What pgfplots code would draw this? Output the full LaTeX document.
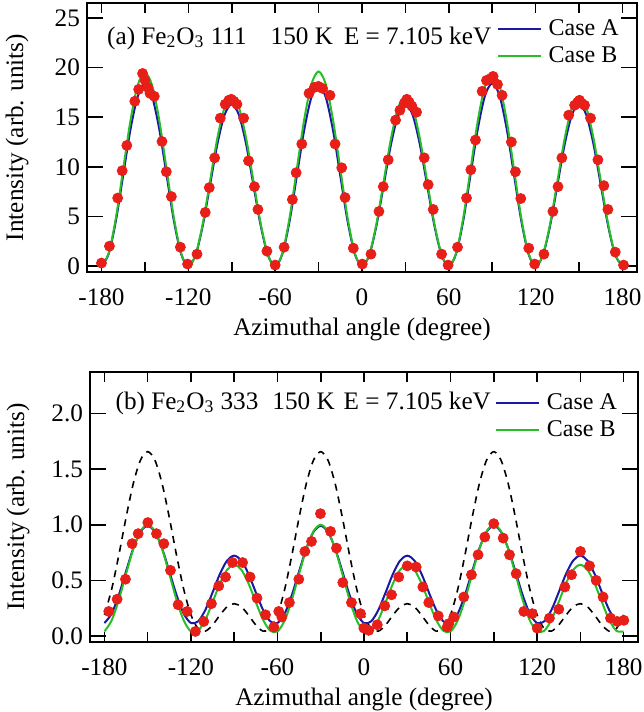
\documentclass[border=0pt]{standalone}
\usepackage{fontspec}
\setmainfont{Liberation Serif}
\usepackage{pgfplots}
\usepackage{pgfplotstable}
\pgfplotsset{compat=1.18}
\definecolor{caseA}{RGB}{25,25,165}
\definecolor{caseB}{RGB}{40,190,40}
\definecolor{dotred}{RGB}{232,30,25}

\pgfplotstableread{
x A B
-180 0 0
-175 1.23 1.31
-170 4.58 4.88
-165 9.15 9.75
-160 13.73 14.63
-155 17.07 18.19
-150 18.3 19.5
-145 17.07 18.19
-140 13.73 14.63
-135 9.15 9.75
-130 4.58 4.88
-125 1.23 1.31
-120 0 0
-115 1.09 1.15
-110 4.08 4.28
-105 8.15 8.55
-100 12.23 12.83
-95 15.21 15.95
-90 16.3 17.1
-85 15.21 15.95
-80 12.23 12.83
-75 8.15 8.55
-70 4.08 4.28
-65 1.09 1.15
-60 0 0
-55 1.22 1.31
-50 4.55 4.9
-45 9.1 9.8
-40 13.65 14.7
-35 16.98 18.29
-30 18.2 19.6
-25 16.98 18.29
-20 13.65 14.7
-15 9.1 9.8
-10 4.55 4.9
-5 1.22 1.31
0 0 0
5 1.09 1.15
10 4.08 4.28
15 8.15 8.55
20 12.23 12.83
25 15.21 15.95
30 16.3 17.1
35 15.21 15.95
40 12.23 12.83
45 8.15 8.55
50 4.08 4.28
55 1.09 1.15
60 0 0
65 1.23 1.31
70 4.6 4.88
75 9.2 9.75
80 13.8 14.63
85 17.17 18.19
90 18.4 19.5
95 17.17 18.19
100 13.8 14.63
105 9.2 9.75
110 4.6 4.88
115 1.23 1.31
120 0 0
125 1.09 1.15
130 4.08 4.28
135 8.15 8.55
140 12.23 12.83
145 15.21 15.95
150 16.3 17.1
155 15.21 15.95
160 12.23 12.83
165 8.15 8.55
170 4.08 4.28
175 1.09 1.15
180 0 0
}\topcurves

\pgfplotstableread{
x y
-180 0.3
-174.5 2.0
-168.8 6.85
-165.7 9.6
-162.5 12.15
-157 16.6
-154.3 17.8
-151.6 19.4
-149.9 18.7
-148 18.0
-146.5 17.4
-143.5 17.1
-138.2 12.55
-135.2 9.5
-131.7 7.0
-125.5 1.9
-120.5 0.2
-114 1.2
-108.3 5.4
-105.5 7.9
-101.8 10.9
-97.9 14.9
-94.5 16.3
-92 16.7
-90.3 16.8
-88.5 16.6
-86.4 16.3
-81.8 14.9
-78.4 10.6
-74.3 8.0
-71.9 5.7
-65.7 1.5
-60 0.1
-53.8 1.9
-48.1 6.7
-45.5 9.4
-41.6 12.3
-36.6 17.4
-32.9 18.0
-30.1 18.1
-27.4 17.9
-22.1 17.2
-18.6 12.3
-14 9.9
-11.7 6.9
-6 1.8
0.2 0.2
6.2 1.2
11.7 5.5
14.7 8.0
18.1 10.7
23.2 14.7
26.2 15.7
29.2 16.4
31 16.8
32.6 16.5
34.5 16.1
37.7 15.5
43 10.9
45.7 8.2
49.2 5.7
55 1.2
59.5 0.1
66 1.9
72.2 6.85
75.2 9.7
78.4 12.7
83 17.6
86 18.7
89 18.9
90.6 19.1
93.6 18.3
96.8 17.2
103.2 12.5
106 9.5
109.7 6.8
115.2 1.8
119.3 0.2
125.7 1.2
131.9 5.5
135.4 8.0
138.1 10.9
142.8 15.2
146.9 16.2
149 16.5
150.3 16.7
151.8 16.4
153.8 16.2
157.9 14.9
163 10.7
167.1 8.1
169.9 5.7
175 1.4
180.7 0.1
}\topdots

\pgfplotstableread{
x A B D
-180 0.116 0.040 0.189
-175 0.200 0.139 0.419
-170 0.368 0.325 0.727
-165 0.581 0.558 1.065
-160 0.787 0.781 1.370
-155 0.936 0.942 1.582
-150 0.990 1.000 1.658
-145 0.936 0.942 1.582
-140 0.787 0.781 1.370
-135 0.581 0.558 1.065
-130 0.368 0.325 0.727
-125 0.200 0.139 0.419
-120 0.116 0.040 0.189
-115 0.131 0.046 0.065
-110 0.234 0.145 0.043
-105 0.391 0.303 0.098
-100 0.555 0.469 0.185
-95 0.677 0.594 0.261
-90 0.722 0.640 0.290
-85 0.677 0.594 0.261
-80 0.555 0.469 0.185
-75 0.391 0.303 0.098
-70 0.234 0.145 0.043
-65 0.131 0.046 0.065
-60 0.116 0.040 0.189
-55 0.200 0.139 0.419
-50 0.368 0.325 0.727
-45 0.581 0.558 1.065
-40 0.787 0.781 1.370
-35 0.936 0.942 1.582
-30 0.990 1.000 1.658
-25 0.936 0.942 1.582
-20 0.787 0.781 1.370
-15 0.581 0.558 1.065
-10 0.368 0.325 0.727
-5 0.200 0.139 0.419
0 0.116 0.040 0.189
5 0.131 0.046 0.065
10 0.234 0.145 0.043
15 0.391 0.303 0.098
20 0.555 0.469 0.185
25 0.677 0.594 0.261
30 0.722 0.640 0.290
35 0.677 0.594 0.261
40 0.555 0.469 0.185
45 0.391 0.303 0.098
50 0.234 0.145 0.043
55 0.131 0.046 0.065
60 0.116 0.040 0.189
65 0.200 0.139 0.419
70 0.368 0.325 0.727
75 0.581 0.558 1.065
80 0.787 0.781 1.370
85 0.936 0.942 1.582
90 0.990 1.000 1.658
95 0.936 0.942 1.582
100 0.787 0.781 1.370
105 0.581 0.558 1.065
110 0.368 0.325 0.727
115 0.200 0.139 0.419
120 0.116 0.040 0.189
125 0.131 0.046 0.065
130 0.234 0.145 0.043
135 0.391 0.303 0.098
140 0.555 0.469 0.185
145 0.677 0.594 0.261
150 0.722 0.640 0.290
155 0.677 0.594 0.261
160 0.555 0.469 0.185
165 0.391 0.303 0.098
170 0.234 0.145 0.043
175 0.131 0.046 0.065
180 0.116 0.040 0.189
}\botcurves

\pgfplotstableread{
x y
-177 0.22
-171.2 0.33
-165.4 0.51
-160.8 0.83
-156.6 0.92
-149.9 1.02
-143.9 0.92
-138.8 0.83
-134.2 0.59
-128.9 0.28
-122.6 0.22
-116.9 0.04
-111.1 0.13
-105.8 0.29
-100.7 0.45
-96 0.53
-91.2 0.66
-84.2 0.66
-79 0.53
-74.2 0.34
-68.3 0.19
-62.5 0.08
-59.1 0.22
-57 0.17
-51.7 0.30
-45.2 0.51
-41 0.76
-36.4 0.85
-30.2 1.10
-23.2 0.94
-19.1 0.79
-14.7 0.48
-8.7 0.30
-2.4 0.20
-0.1 0.07
3.3 0.05
9.2 0.10
14.4 0.27
19.1 0.37
24.1 0.53
30 0.63
36.2 0.62
40.8 0.44
44.9 0.30
51.5 0.18
57.7 0.08
58.8 0.11
62.3 0.17
69.2 0.35
74.5 0.55
79.1 0.73
83.8 0.89
90 1.01
96.5 0.88
100.9 0.73
105.5 0.56
110.8 0.22
116.6 0.20
120.1 0.07
128.6 0.16
135.1 0.24
139.3 0.44
143.9 0.55
150.1 0.76
156.4 0.63
161 0.50
165.8 0.35
170.9 0.16
175.6 0.13
180.2 0.14
}\botdots

\pgfplotsset{panel/.style={
  scale only axis,
  xmin=-190, xmax=190,
  xtick={-180,-150,...,180},
  xticklabels={-180,,-120,,-60,,0,,60,,120,,180},
  tick align=inside,
  major tick length=8pt,
  xtick style={/pgfplots/major tick length=5pt},
  tick style={line width=0.8pt, black},
  axis line style={line width=0.9pt},
  xlabel={Azimuthal angle (degree)},
  ylabel={Intensity (arb. units)},
  xticklabel style={yshift=-5pt},
  xlabel style={at={(axis description cs:0.5,0)}, anchor=center, yshift=-28.5pt},
  ylabel style={at={(axis description cs:-0.127,0.5)}, anchor=center},
  legend style={draw=none, fill=none, inner sep=0pt, anchor=north west, row sep=0pt,
    font=\fontsize{12}{14}\selectfont},
  legend cell align=left,
  legend image code/.code={\draw[#1] (0cm,0cm) -- (0.75cm,0cm); \path (0.8cm,0cm);},
  font=\fontsize{12.6}{14.5}\selectfont,
}}

\begin{document}
\begin{tikzpicture}
\begin{axis}[panel,
  at={(43.5pt,220pt)}, anchor=south west,
  width=275pt, height=134.5pt,
  ymin=-0.6, ymax=26.5,
  ytick={0,5,10,15,20,25},
  yticklabels={0,5,10,15,20,25},
  legend style={at={(axis description cs:0.745,0.955)}},
]
\addplot[only marks, mark=*, mark size=2.5pt, color=dotred, forget plot] table[x=x,y=y] {\topdots};
\addplot[caseA, line width=1pt, smooth] table[x=x,y=A] {\topcurves};
\addlegendentry{Case A}
\addplot[caseB, line width=1pt, smooth] table[x=x,y=B] {\topcurves};
\addlegendentry{Case B}
\node[anchor=west, inner sep=0pt] at (axis description cs:0.036,0.87)
  {(a) Fe\textsubscript{2}O\textsubscript{3} 111\hspace{12pt}150 K\hspace{5.5pt}E = 7.105 keV};
\end{axis}

\begin{axis}[panel,
  at={(45pt,35pt)}, anchor=south west,
  width=274pt, height=135pt,
  ymin=-0.055, ymax=2.375,
  ytick={0,0.5,1,1.5,2},
  yticklabels={0.0,0.5,1.0,1.5,2.0},
  ylabel style={at={(axis description cs:-0.131,0.5)}},
  legend style={at={(axis description cs:0.739,0.935)}},
]
\addplot[black, line width=0.8pt, dash pattern=on 3.5pt off 3pt, smooth, forget plot] table[x=x,y=D] {\botcurves};
\addplot[only marks, mark=*, mark size=2.5pt, color=dotred, forget plot] table[x=x,y=y] {\botdots};
\addplot[caseA, line width=1pt, smooth] table[x=x,y=A] {\botcurves};
\addlegendentry{Case A}
\addplot[caseB, line width=1pt, smooth] table[x=x,y=B] {\botcurves};
\addlegendentry{Case B}
\node[anchor=west, inner sep=0pt] at (axis description cs:0.046,0.885)
  {(b) Fe\textsubscript{2}O\textsubscript{3} 333\hspace{7pt}150 K\hspace{4.5pt}E = 7.105 keV};
\end{axis}
\pgfresetboundingbox
\path[use as bounding box] (0pt,0pt) rectangle (321.5pt,356pt);
\end{tikzpicture}
\end{document}
